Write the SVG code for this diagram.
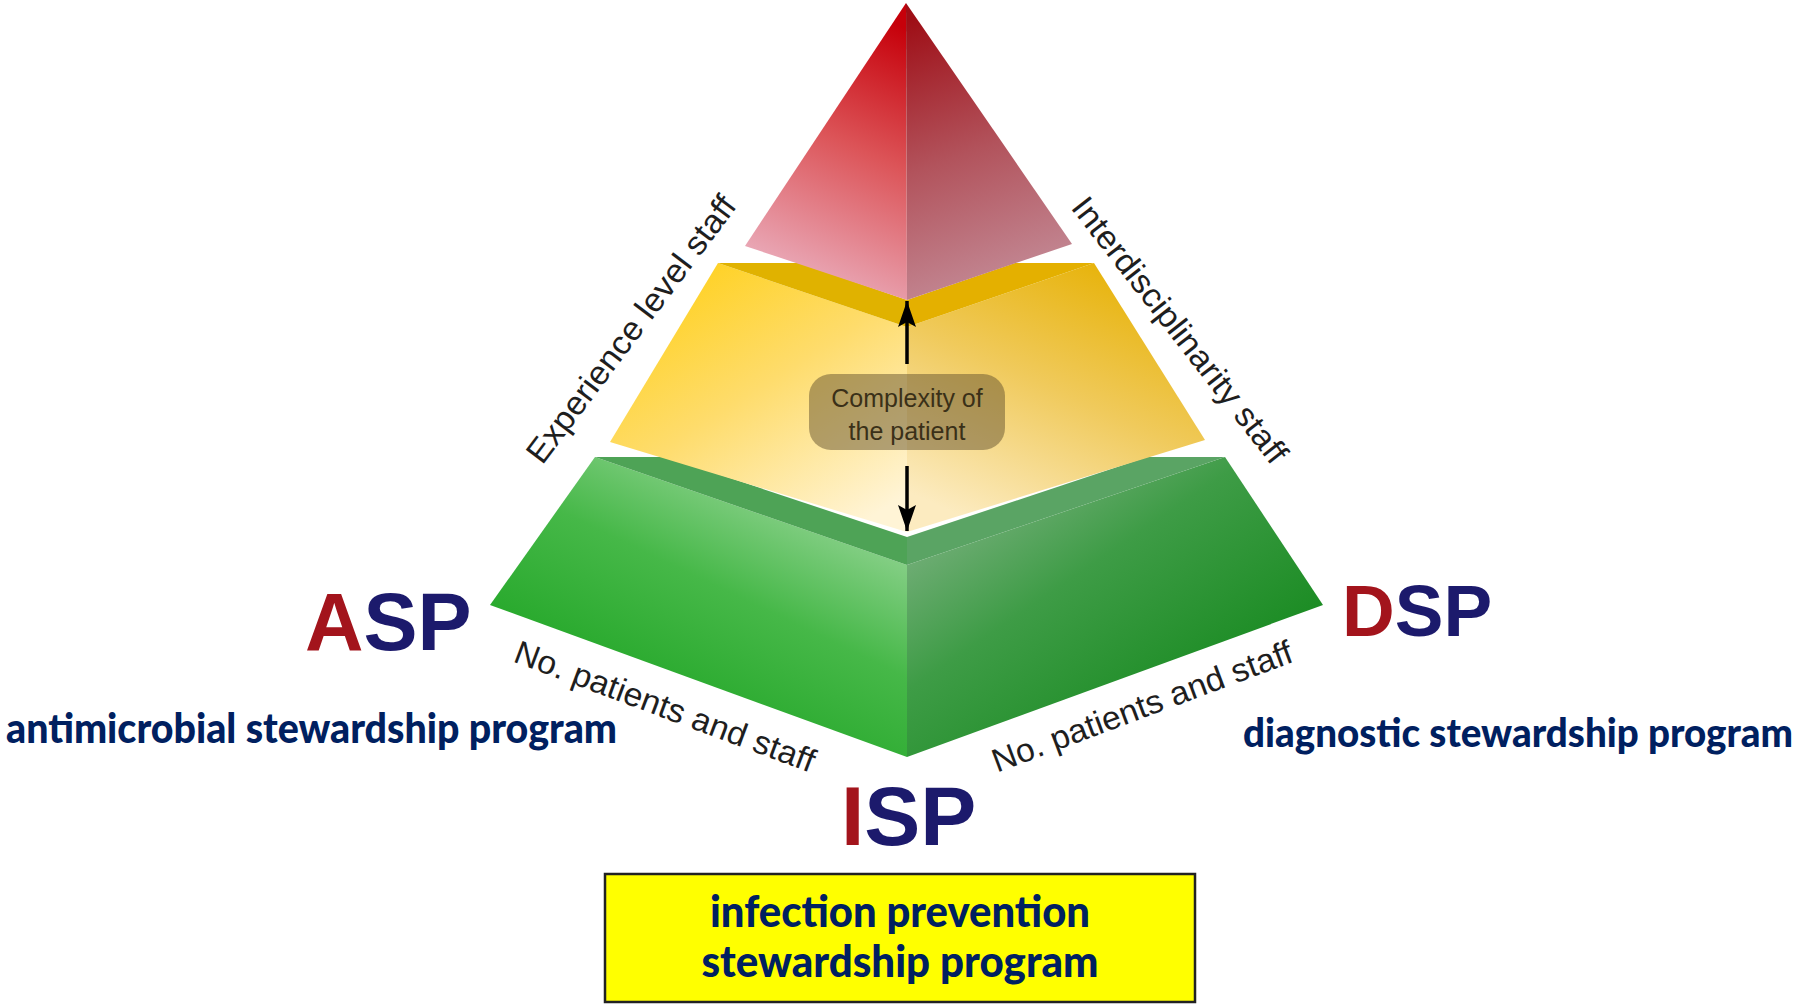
<svg xmlns="http://www.w3.org/2000/svg" width="1814" height="1005" viewBox="0 0 1814 1005">
  <style>
    .edge { font-family: "Liberation Sans", Arial, sans-serif; font-size: 33px; fill: #1e1e1e; }
    .abbr { font-family: "Liberation Sans", Arial, sans-serif; font-weight: 700; }
    .red { fill: #a3141c; }
    .navy { fill: #1c1a6c; }
    .prog { font-family: Lato, "Open Sans", sans-serif; font-weight: 900; fill: #002060; }
    .cx { font-family: "Liberation Sans", Arial, sans-serif; font-size: 25px; fill: #3a3018; text-anchor: middle; }
    .arrow { stroke: #000; stroke-width: 3.5; fill: none; marker-end: url(#head); }
  </style>
  <defs>
    <marker id="head" markerUnits="userSpaceOnUse" markerWidth="28" markerHeight="18" refX="26" refY="9" orient="auto">
      <path d="M0,0 L26,9 L0,18 L5,9 z" fill="#000"/>
    </marker>
    <!-- top tier (red pyramid) -->
    <linearGradient id="redL" x1="0.65" y1="0" x2="0.4" y2="1">
      <stop offset="0" stop-color="#c6000a"/>
      <stop offset="0.45" stop-color="#dc5458"/>
      <stop offset="1" stop-color="#ebb3c3"/>
    </linearGradient>
    <linearGradient id="redR" x1="0.3" y1="0" x2="0.5" y2="1">
      <stop offset="0" stop-color="#9e0e16"/>
      <stop offset="0.5" stop-color="#b2535c"/>
      <stop offset="1" stop-color="#c48c98"/>
    </linearGradient>
    <!-- middle tier (yellow) -->
    <linearGradient id="yelL" x1="0.1" y1="0" x2="0.8" y2="1">
      <stop offset="0" stop-color="#ffcf12"/>
      <stop offset="0.5" stop-color="#fedc6c"/>
      <stop offset="1" stop-color="#fff4d6"/>
    </linearGradient>
    <linearGradient id="yelR" x1="0.8" y1="0" x2="0.3" y2="1">
      <stop offset="0" stop-color="#e6b000"/>
      <stop offset="0.5" stop-color="#f0ca5c"/>
      <stop offset="1" stop-color="#fcebc0"/>
    </linearGradient>
    <!-- base tier (green) -->
    <linearGradient id="grnL" x1="0.85" y1="0.05" x2="0.25" y2="0.95">
      <stop offset="0" stop-color="#a6dba6"/>
      <stop offset="0.45" stop-color="#46b848"/>
      <stop offset="1" stop-color="#16a01c"/>
    </linearGradient>
    <linearGradient id="grnR" x1="0.05" y1="0.05" x2="0.9" y2="0.95">
      <stop offset="0" stop-color="#8ab68e"/>
      <stop offset="0.4" stop-color="#3e9c46"/>
      <stop offset="1" stop-color="#0a8412"/>
    </linearGradient>
  </defs>

  <rect width="1814" height="1005" fill="#ffffff"/>

  <!-- base tier -->
  <g id="tier-base">
    <polygon points="595,457 907,565 907,757 490,605" fill="url(#grnL)"/>
    <polygon points="907,565 1225,457 1323,605 907,757" fill="url(#grnR)"/>
    <polygon points="595,457 667,457 907,537 907,565" fill="#4ea356"/>
    <polygon points="907,537 1147,457 1225,457 907,565" fill="#5aa464"/>
  </g>

  <!-- middle tier -->
  <g id="tier-middle">
    <polygon points="718,263 907,327 907,532 610,442" fill="url(#yelL)"/>
    <polygon points="907,327 1094,263 1205,440 907,532" fill="url(#yelR)"/>
    <polygon points="718,263 800,263 907,300 907,327" fill="#e0b200"/>
    <polygon points="907,300 1015,263 1094,263 907,327" fill="#e4b000"/>
  </g>

  <!-- top tier -->
  <g id="tier-top">
    <polygon points="906,3 907,300 745,246" fill="url(#redL)"/>
    <polygon points="906,3 1072,244 907,300" fill="url(#redR)"/>
  </g>

  <!-- centre badge -->
  <g id="complexity">
    <rect x="809" y="374" width="196" height="76" rx="22" fill="#64522d" fill-opacity="0.5"/>
    <text class="cx" x="907" y="407">Complexity of</text>
    <text class="cx" x="907" y="440">the patient</text>
  </g>

  <!-- arrows -->
  <g id="connectors">
    <line class="arrow" x1="907" y1="364" x2="907" y2="301"/>
    <line class="arrow" x1="907" y1="466" x2="907" y2="531"/>
  </g>

  <!-- edge labels -->
  <g id="edge-labels">
    <text class="edge" text-anchor="middle" textLength="325" lengthAdjust="spacingAndGlyphs" transform="translate(640,336) rotate(-53)">Experience level staff</text>
    <text class="edge" text-anchor="middle" textLength="328" lengthAdjust="spacingAndGlyphs" transform="translate(1171,337) rotate(52)">Interdisciplinarity staff</text>
    <text class="edge" text-anchor="middle" textLength="318" lengthAdjust="spacingAndGlyphs" transform="translate(661,717) rotate(20.5)">No. patients and staff</text>
    <text class="edge" text-anchor="middle" textLength="318" lengthAdjust="spacingAndGlyphs" transform="translate(1146,717) rotate(-20.5)">No. patients and staff</text>
  </g>

  <!-- programme labels -->
  <g id="asp">
    <text class="abbr" x="305" y="650" font-size="81"><tspan class="red">A</tspan><tspan class="navy">SP</tspan></text>
    <text class="prog" x="6" y="743" font-size="41" textLength="611" lengthAdjust="spacingAndGlyphs">antimicrobial stewardship program</text>
  </g>

  <g id="dsp">
    <text class="abbr" x="1342" y="636" font-size="73"><tspan class="red">D</tspan><tspan class="navy">SP</tspan></text>
    <text class="prog" x="1243" y="747" font-size="40" textLength="550" lengthAdjust="spacingAndGlyphs">diagnostic stewardship program</text>
  </g>

  <g id="isp">
    <text class="abbr" x="841" y="845" font-size="84"><tspan class="red">I</tspan><tspan class="navy">SP</tspan></text>
    <rect x="605" y="874" width="590" height="128" fill="#ffff00" stroke="#222222" stroke-width="2.5"/>
    <text class="prog" x="900" y="927" font-size="43" text-anchor="middle" textLength="380" lengthAdjust="spacingAndGlyphs">infection prevention</text>
    <text class="prog" x="900" y="977" font-size="43" text-anchor="middle" textLength="397" lengthAdjust="spacingAndGlyphs">stewardship program</text>
  </g>
</svg>
